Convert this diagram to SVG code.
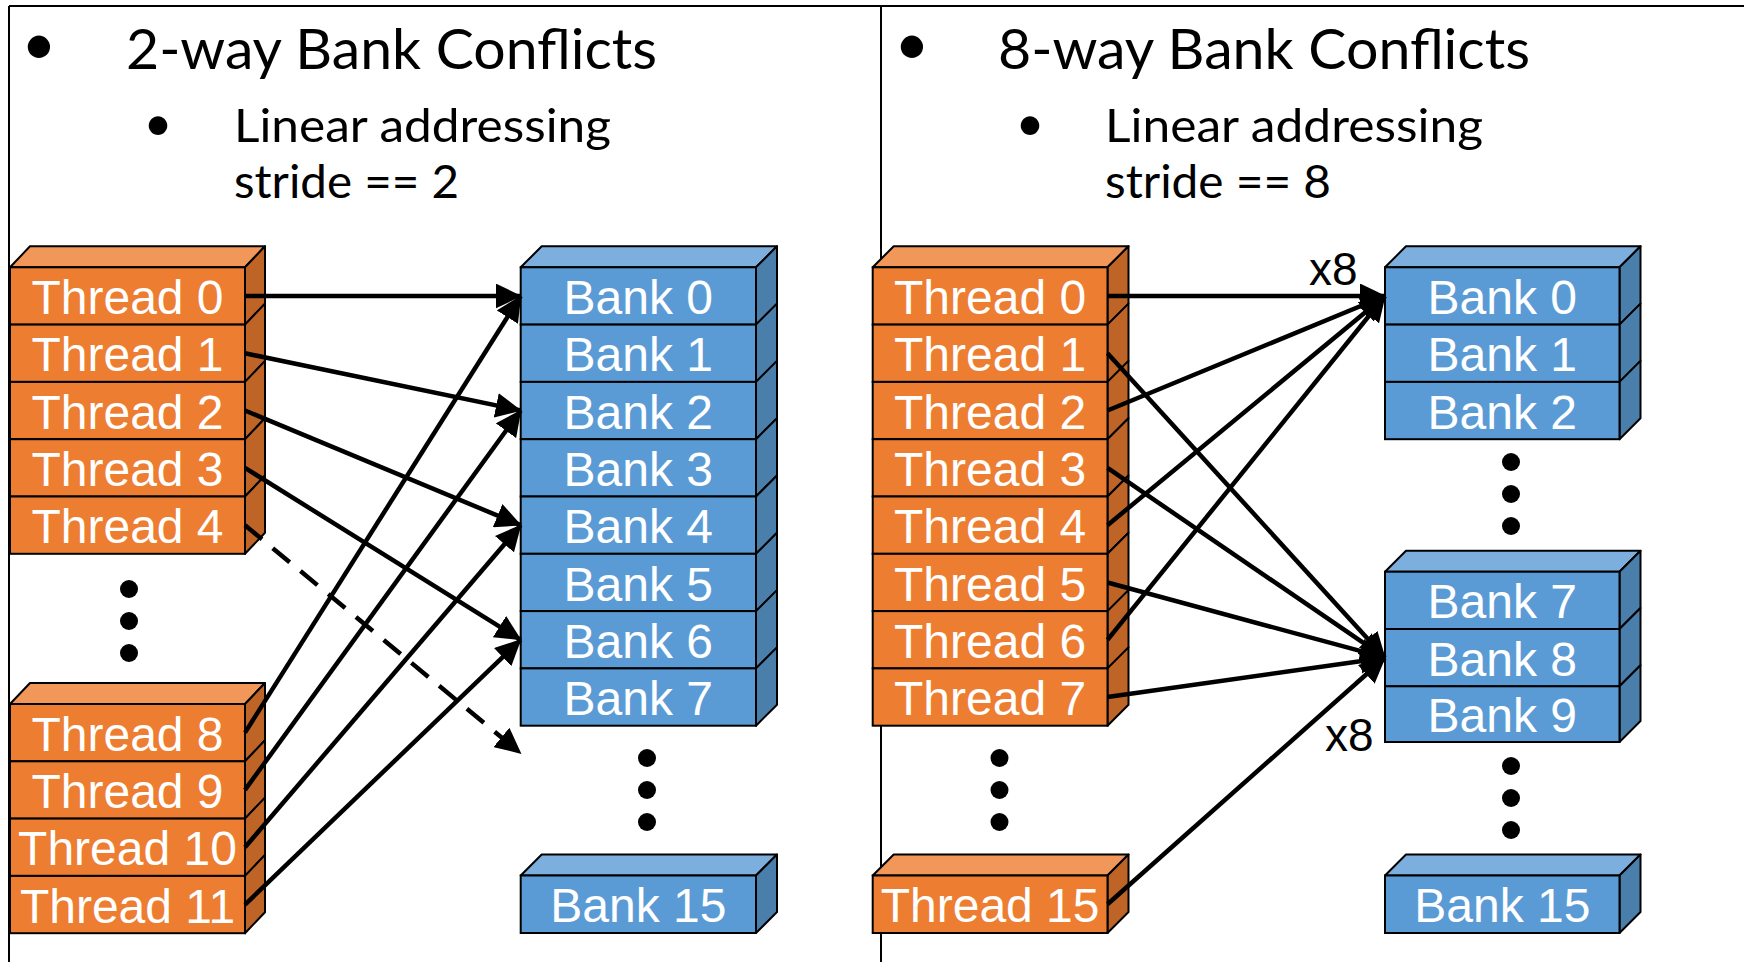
<svg xmlns="http://www.w3.org/2000/svg" width="1744" height="962" viewBox="0 0 1744 962">
<defs>
<marker id="ah" markerUnits="userSpaceOnUse" markerWidth="26" markerHeight="25" refX="25" refY="12.5" orient="auto">
<path d="M0,0 L26,12.5 L0,25 z" fill="#000"/>
</marker>
<style>
.frame{stroke:#000;stroke-width:2;fill:none}
.tf{fill:#ED7D31;stroke:#000;stroke-width:2}
.tt{fill:#F1975A;stroke:#000;stroke-width:2;stroke-linejoin:round}
.ts{fill:#BE6427;stroke:#000;stroke-width:2;stroke-linejoin:round}
.bf{fill:#5B9BD5;stroke:#000;stroke-width:2}
.bt{fill:#7CAFDD;stroke:#000;stroke-width:2;stroke-linejoin:round}
.bs{fill:#4A7EAB;stroke:#000;stroke-width:2;stroke-linejoin:round}
.lbl{font-family:"Liberation Sans",Arial,sans-serif;font-size:48px;fill:#fff;text-anchor:middle}
.x8{font-family:"Liberation Sans",Arial,sans-serif;font-size:46px;fill:#000}
.h1{font-family:Lato,"Open Sans",sans-serif;font-size:56px;fill:#000}
.h2{font-family:Lato,"Open Sans",sans-serif;font-size:47px;fill:#000}
.bul{font-family:Lato,"Open Sans",sans-serif;fill:#000;text-anchor:middle}
.c{stroke:#000;stroke-width:4.5;fill:none;marker-end:url(#ah)}
.d{stroke-dasharray:22 14}
.dot{fill:#000}
</style>
</defs>

<g id="frame">
<line class="frame" x1="9" y1="6" x2="1744" y2="6"/>
<line class="frame" x1="9" y1="6" x2="9" y2="962"/>
<line class="frame" x1="881" y1="6" x2="881" y2="962"/>
</g>

<g id="titles">
<text class="bul" x="39" y="65" font-size="60">•</text>
<text class="h1" x="126" y="69" textLength="531" lengthAdjust="spacingAndGlyphs">2-way Bank Conflicts</text>
<text class="bul" x="158" y="141" font-size="50">•</text>
<text class="h2" x="234" y="142" textLength="377" lengthAdjust="spacingAndGlyphs">Linear addressing</text>
<text class="h2" x="234" y="198" textLength="225" lengthAdjust="spacingAndGlyphs">stride == 2</text>
<text class="bul" x="912" y="65" font-size="60">•</text>
<text class="h1" x="998" y="69" textLength="532" lengthAdjust="spacingAndGlyphs">8-way Bank Conflicts</text>
<text class="bul" x="1030" y="141" font-size="50">•</text>
<text class="h2" x="1105" y="142" textLength="378" lengthAdjust="spacingAndGlyphs">Linear addressing</text>
<text class="h2" x="1105" y="198" textLength="226" lengthAdjust="spacingAndGlyphs">stride == 8</text>
</g>

<!-- Left threads 0-4 -->
<g id="thread-l0">
<polygon class="tt" points="10,267.3 245,267.3 265,246.3 30,246.3"/>
<polygon class="ts" points="245,267.3 265,246.3 265,303.6 245,324.6"/>
<rect class="tf" x="10" y="267.3" width="235" height="57.3"/>
<text class="lbl" x="127.5" y="314">Thread 0</text>
</g>
<g id="thread-l1">
<polygon class="ts" points="245,324.6 265,303.6 265,360.9 245,381.9"/>
<rect class="tf" x="10" y="324.6" width="235" height="57.3"/>
<text class="lbl" x="127.5" y="371.3">Thread 1</text>
</g>
<g id="thread-l2">
<polygon class="ts" points="245,381.9 265,360.9 265,418.2 245,439.2"/>
<rect class="tf" x="10" y="381.9" width="235" height="57.3"/>
<text class="lbl" x="127.5" y="428.6">Thread 2</text>
</g>
<g id="thread-l3">
<polygon class="ts" points="245,439.2 265,418.2 265,475.5 245,496.5"/>
<rect class="tf" x="10" y="439.2" width="235" height="57.3"/>
<text class="lbl" x="127.5" y="485.9">Thread 3</text>
</g>
<g id="thread-l4">
<polygon class="ts" points="245,496.5 265,475.5 265,532.8 245,553.8"/>
<rect class="tf" x="10" y="496.5" width="235" height="57.3"/>
<text class="lbl" x="127.5" y="543.2">Thread 4</text>
</g>
<g id="dots-l-threads">
<circle class="dot" cx="129" cy="589" r="9"/>
<circle class="dot" cx="129" cy="621" r="9"/>
<circle class="dot" cx="129" cy="653" r="9"/>
</g>
<!-- Left threads 8-11 -->
<g id="thread-l8">
<polygon class="tt" points="10,704 245,704 265,683 30,683"/>
<polygon class="ts" points="245,704 265,683 265,740.3 245,761.3"/>
<rect class="tf" x="10" y="704" width="235" height="57.3"/>
<text class="lbl" x="127.5" y="750.7">Thread 8</text>
</g>
<g id="thread-l9">
<polygon class="ts" points="245,761.3 265,740.3 265,797.6 245,818.6"/>
<rect class="tf" x="10" y="761.3" width="235" height="57.3"/>
<text class="lbl" x="127.5" y="808">Thread 9</text>
</g>
<g id="thread-l10">
<polygon class="ts" points="245,818.6 265,797.6 265,854.9 245,875.9"/>
<rect class="tf" x="10" y="818.6" width="235" height="57.3"/>
<text class="lbl" x="127.5" y="865.3">Thread 10</text>
</g>
<g id="thread-l11">
<polygon class="ts" points="245,875.9 265,854.9 265,912.2 245,933.2"/>
<rect class="tf" x="10" y="875.9" width="235" height="57.3"/>
<text class="lbl" x="127.5" y="922.6">Thread 11</text>
</g>

<!-- Left banks 0-7 -->
<g id="bank-l0">
<polygon class="bt" points="520.7,267.3 756,267.3 777,246.3 541.7,246.3"/>
<polygon class="bs" points="756,267.3 777,246.3 777,303.6 756,324.6"/>
<rect class="bf" x="520.7" y="267.3" width="235.3" height="57.3"/>
<text class="lbl" x="638.3" y="314">Bank 0</text>
</g>
<g id="bank-l1">
<polygon class="bs" points="756,324.6 777,303.6 777,360.9 756,381.9"/>
<rect class="bf" x="520.7" y="324.6" width="235.3" height="57.3"/>
<text class="lbl" x="638.3" y="371.3">Bank 1</text>
</g>
<g id="bank-l2">
<polygon class="bs" points="756,381.9 777,360.9 777,418.2 756,439.2"/>
<rect class="bf" x="520.7" y="381.9" width="235.3" height="57.3"/>
<text class="lbl" x="638.3" y="428.6">Bank 2</text>
</g>
<g id="bank-l3">
<polygon class="bs" points="756,439.2 777,418.2 777,475.5 756,496.5"/>
<rect class="bf" x="520.7" y="439.2" width="235.3" height="57.3"/>
<text class="lbl" x="638.3" y="485.9">Bank 3</text>
</g>
<g id="bank-l4">
<polygon class="bs" points="756,496.5 777,475.5 777,532.8 756,553.8"/>
<rect class="bf" x="520.7" y="496.5" width="235.3" height="57.3"/>
<text class="lbl" x="638.3" y="543.2">Bank 4</text>
</g>
<g id="bank-l5">
<polygon class="bs" points="756,553.8 777,532.8 777,590.1 756,611.1"/>
<rect class="bf" x="520.7" y="553.8" width="235.3" height="57.3"/>
<text class="lbl" x="638.3" y="600.5">Bank 5</text>
</g>
<g id="bank-l6">
<polygon class="bs" points="756,611.1 777,590.1 777,647.4 756,668.4"/>
<rect class="bf" x="520.7" y="611.1" width="235.3" height="57.3"/>
<text class="lbl" x="638.3" y="657.8">Bank 6</text>
</g>
<g id="bank-l7">
<polygon class="bs" points="756,668.4 777,647.4 777,704.7 756,725.7"/>
<rect class="bf" x="520.7" y="668.4" width="235.3" height="57.3"/>
<text class="lbl" x="638.3" y="715.1">Bank 7</text>
</g>
<g id="dots-l-banks">
<circle class="dot" cx="647" cy="758" r="9"/>
<circle class="dot" cx="647" cy="790" r="9"/>
<circle class="dot" cx="647" cy="822" r="9"/>
</g>
<g id="bank-l15">
<polygon class="bt" points="520.7,875.5 756,875.5 777,854.5 541.7,854.5"/>
<polygon class="bs" points="756,875.5 777,854.5 777,912 756,933"/>
<rect class="bf" x="520.7" y="875.5" width="235.3" height="57.5"/>
<text class="lbl" x="638.3" y="922.3">Bank 15</text>
</g>

<!-- Right threads 0-7 -->
<g id="thread-r0">
<polygon class="tt" points="872.7,267.3 1107.5,267.3 1128.5,246.3 893.7,246.3"/>
<polygon class="ts" points="1107.5,267.3 1128.5,246.3 1128.5,303.6 1107.5,324.6"/>
<rect class="tf" x="872.7" y="267.3" width="234.8" height="57.3"/>
<text class="lbl" x="990.1" y="314">Thread 0</text>
</g>
<g id="thread-r1">
<polygon class="ts" points="1107.5,324.6 1128.5,303.6 1128.5,360.9 1107.5,381.9"/>
<rect class="tf" x="872.7" y="324.6" width="234.8" height="57.3"/>
<text class="lbl" x="990.1" y="371.3">Thread 1</text>
</g>
<g id="thread-r2">
<polygon class="ts" points="1107.5,381.9 1128.5,360.9 1128.5,418.2 1107.5,439.2"/>
<rect class="tf" x="872.7" y="381.9" width="234.8" height="57.3"/>
<text class="lbl" x="990.1" y="428.6">Thread 2</text>
</g>
<g id="thread-r3">
<polygon class="ts" points="1107.5,439.2 1128.5,418.2 1128.5,475.5 1107.5,496.5"/>
<rect class="tf" x="872.7" y="439.2" width="234.8" height="57.3"/>
<text class="lbl" x="990.1" y="485.9">Thread 3</text>
</g>
<g id="thread-r4">
<polygon class="ts" points="1107.5,496.5 1128.5,475.5 1128.5,532.8 1107.5,553.8"/>
<rect class="tf" x="872.7" y="496.5" width="234.8" height="57.3"/>
<text class="lbl" x="990.1" y="543.2">Thread 4</text>
</g>
<g id="thread-r5">
<polygon class="ts" points="1107.5,553.8 1128.5,532.8 1128.5,590.1 1107.5,611.1"/>
<rect class="tf" x="872.7" y="553.8" width="234.8" height="57.3"/>
<text class="lbl" x="990.1" y="600.5">Thread 5</text>
</g>
<g id="thread-r6">
<polygon class="ts" points="1107.5,611.1 1128.5,590.1 1128.5,647.4 1107.5,668.4"/>
<rect class="tf" x="872.7" y="611.1" width="234.8" height="57.3"/>
<text class="lbl" x="990.1" y="657.8">Thread 6</text>
</g>
<g id="thread-r7">
<polygon class="ts" points="1107.5,668.4 1128.5,647.4 1128.5,704.7 1107.5,725.7"/>
<rect class="tf" x="872.7" y="668.4" width="234.8" height="57.3"/>
<text class="lbl" x="990.1" y="715.1">Thread 7</text>
</g>
<g id="dots-r-threads">
<circle class="dot" cx="999.5" cy="758" r="9"/>
<circle class="dot" cx="999.5" cy="790" r="9"/>
<circle class="dot" cx="999.5" cy="822" r="9"/>
</g>
<g id="thread-r15">
<polygon class="tt" points="872.7,875.5 1107.5,875.5 1128.5,854.5 893.7,854.5"/>
<polygon class="ts" points="1107.5,875.5 1128.5,854.5 1128.5,912 1107.5,933"/>
<rect class="tf" x="872.7" y="875.5" width="234.8" height="57.5"/>
<text class="lbl" x="990.1" y="922.3">Thread 15</text>
</g>

<!-- Right banks -->
<g id="bank-r0">
<polygon class="bt" points="1385,267.3 1619.5,267.3 1640.5,246.3 1406,246.3"/>
<polygon class="bs" points="1619.5,267.3 1640.5,246.3 1640.5,303.6 1619.5,324.6"/>
<rect class="bf" x="1385" y="267.3" width="234.5" height="57.3"/>
<text class="lbl" x="1502.3" y="314">Bank 0</text>
</g>
<g id="bank-r1">
<polygon class="bs" points="1619.5,324.6 1640.5,303.6 1640.5,360.9 1619.5,381.9"/>
<rect class="bf" x="1385" y="324.6" width="234.5" height="57.3"/>
<text class="lbl" x="1502.3" y="371.3">Bank 1</text>
</g>
<g id="bank-r2">
<polygon class="bs" points="1619.5,381.9 1640.5,360.9 1640.5,418.2 1619.5,439.2"/>
<rect class="bf" x="1385" y="381.9" width="234.5" height="57.3"/>
<text class="lbl" x="1502.3" y="428.6">Bank 2</text>
</g>
<g id="dots-r-banks-a">
<circle class="dot" cx="1511" cy="462" r="9"/>
<circle class="dot" cx="1511" cy="494" r="9"/>
<circle class="dot" cx="1511" cy="526" r="9"/>
</g>
<g id="bank-r7">
<polygon class="bt" points="1385,571.7 1619.5,571.7 1640.5,550.7 1406,550.7"/>
<polygon class="bs" points="1619.5,571.7 1640.5,550.7 1640.5,608 1619.5,629"/>
<rect class="bf" x="1385" y="571.7" width="234.5" height="57.3"/>
<text class="lbl" x="1502.3" y="618.4">Bank 7</text>
</g>
<g id="bank-r8">
<polygon class="bs" points="1619.5,629 1640.5,608 1640.5,665.3 1619.5,686.3"/>
<rect class="bf" x="1385" y="629" width="234.5" height="57.3"/>
<text class="lbl" x="1502.3" y="675.7">Bank 8</text>
</g>
<g id="bank-r9">
<polygon class="bs" points="1619.5,686.3 1640.5,665.3 1640.5,721 1619.5,742"/>
<rect class="bf" x="1385" y="686.3" width="234.5" height="55.7"/>
<text class="lbl" x="1502.3" y="732">Bank 9</text>
</g>
<g id="dots-r-banks-b">
<circle class="dot" cx="1511" cy="766" r="9"/>
<circle class="dot" cx="1511" cy="798" r="9"/>
<circle class="dot" cx="1511" cy="830" r="9"/>
</g>
<g id="bank-r15">
<polygon class="bt" points="1385,875.5 1619.5,875.5 1640.5,854.5 1406,854.5"/>
<polygon class="bs" points="1619.5,875.5 1640.5,854.5 1640.5,912 1619.5,933"/>
<rect class="bf" x="1385" y="875.5" width="234.5" height="57.5"/>
<text class="lbl" x="1502.3" y="922.3">Bank 15</text>
</g>

<g id="connectors">
<line class="c" x1="245" y1="296" x2="520.7" y2="296"/>
<line class="c" x1="245" y1="353.3" x2="520.7" y2="410.5"/>
<line class="c" x1="245" y1="410.5" x2="520.7" y2="525.2"/>
<line class="c" x1="245" y1="467.9" x2="520.7" y2="639.8"/>
<line class="c d" x1="245" y1="525.2" x2="520.7" y2="753.3"/>
<line class="c" x1="245" y1="732.6" x2="520.7" y2="296"/>
<line class="c" x1="245" y1="789.9" x2="520.7" y2="410.5"/>
<line class="c" x1="245" y1="847.3" x2="520.7" y2="525.2"/>
<line class="c" x1="245" y1="904.6" x2="520.7" y2="639.8"/>

<line class="c" x1="1107.5" y1="296" x2="1385" y2="296"/>
<line class="c" x1="1107.5" y1="353.3" x2="1385" y2="657.7"/>
<line class="c" x1="1107.5" y1="410.5" x2="1385" y2="296"/>
<line class="c" x1="1107.5" y1="467.9" x2="1385" y2="657.7"/>
<line class="c" x1="1107.5" y1="525.2" x2="1385" y2="296"/>
<line class="c" x1="1107.5" y1="582.5" x2="1385" y2="657.7"/>
<line class="c" x1="1107.5" y1="639.8" x2="1385" y2="296"/>
<line class="c" x1="1107.5" y1="697.1" x2="1385" y2="657.7"/>
<line class="c" x1="1107.5" y1="904.3" x2="1385" y2="657.7"/>
<text class="x8" x="1309" y="285">x8</text>
<text class="x8" x="1325" y="751">x8</text>
</g>
</svg>
